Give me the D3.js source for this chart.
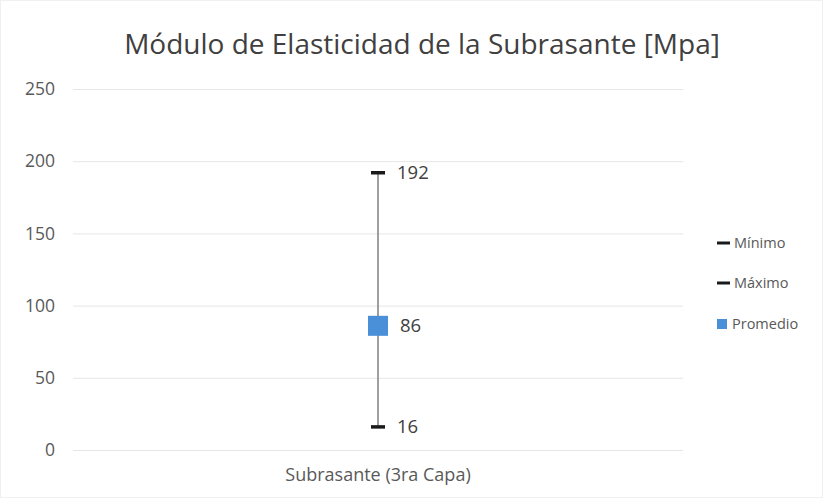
<!DOCTYPE html>
<html><head><meta charset="utf-8">
<script src="https://cdn.jsdelivr.net/npm/d3@7"></script>
<style>body{margin:0;background:#fff;} svg{display:block;}</style>
</head><body>
<script>
const categories = ["Subrasante (3ra Capa)"];
const minimo = [16];
const maximo = [192];
const promedio = [86];
const yTicks = [0, 50, 100, 150, 200, 250];
const legendItems = ["Mínimo", "Máximo", "Promedio"];

(function () {
const W = 823, H = 498;
const svg = d3.select("body").append("svg").attr("width", W).attr("height", H);
svg.append("rect").attr("x", 0.5).attr("y", 0.5).attr("width", W - 1).attr("height", H - 1)
  .attr("fill", "#fff").attr("stroke", "#f0f0f0");

const font = "'Open Sans', sans-serif";
const mLeft = 73, mRight = 683, mTop = 89, mBottom = 450;
const x = d3.scaleBand().domain(categories).range([mLeft, mRight]);
const y = d3.scaleLinear().domain([0, 250]).range([mBottom, mTop]);

svg.append("text").attr("x", 422).attr("y", 54).attr("text-anchor", "middle")
  .attr("font-family", font).attr("font-size", 28).attr("fill", "#404040")
  .text("Módulo de Elasticidad de la Subrasante [Mpa]");

const yAxis = svg.append("g").attr("transform", `translate(${mLeft},0)`)
  .call(d3.axisLeft(y).tickValues(yTicks).tickSize(-(mRight - mLeft)).tickPadding(18));
yAxis.select(".domain").remove();
yAxis.selectAll(".tick line").attr("stroke", "#e6e6e6").attr("stroke-width", 1);
yAxis.selectAll(".tick text").attr("font-family", font).attr("font-size", 17.5).attr("fill", "#595959");

const xAxis = svg.append("g").attr("transform", `translate(0,${mBottom})`)
  .call(d3.axisBottom(x).tickSize(0).tickPadding(18));
xAxis.select(".domain").remove();
xAxis.selectAll(".tick text").attr("font-family", font).attr("font-size", 18).attr("fill", "#595959");

const g = svg.append("g");
categories.forEach((c, i) => {
  const cx = x(c) + x.bandwidth() / 2;
  g.append("line").attr("x1", cx).attr("x2", cx).attr("y1", y(maximo[i])).attr("y2", y(minimo[i]))
    .attr("stroke", "#7f7f7f").attr("stroke-width", 1.5);
  [minimo[i], maximo[i]].forEach(v => {
    g.append("line").attr("x1", cx - 7).attr("x2", cx + 7).attr("y1", y(v)).attr("y2", y(v))
      .attr("stroke", "#1a1a1a").attr("stroke-width", 3.5);
  });
  g.append("rect").attr("x", cx - 10).attr("y", y(promedio[i]) - 10).attr("width", 20).attr("height", 20)
    .attr("fill", "#4a90d9");
  const lab = [[maximo[i], 19], [promedio[i], 22], [minimo[i], 19]];
  lab.forEach(([v, dx]) => {
    g.append("text").attr("x", cx + dx).attr("y", y(v)).attr("dy", "0.35em")
      .attr("font-family", font).attr("font-size", 18.5).attr("fill", "#404040").text(v);
  });
});

const lg = svg.append("g");
const ly = [243, 283, 324];
legendItems.forEach((t, i) => {
  if (i < 2) {
    lg.append("line").attr("x1", 717).attr("x2", 730).attr("y1", ly[i]).attr("y2", ly[i])
      .attr("stroke", "#1a1a1a").attr("stroke-width", 3);
  } else {
    lg.append("rect").attr("x", 717).attr("y", ly[i] - 5).attr("width", 10).attr("height", 10).attr("fill", "#4a90d9");
  }
  lg.append("text").attr("x", i < 2 ? 734 : 732).attr("y", ly[i]).attr("dy", "0.35em")
    .attr("font-family", font).attr("font-size", 14.5).attr("fill", "#595959").text(t);
});
})();
</script>
</body></html>
